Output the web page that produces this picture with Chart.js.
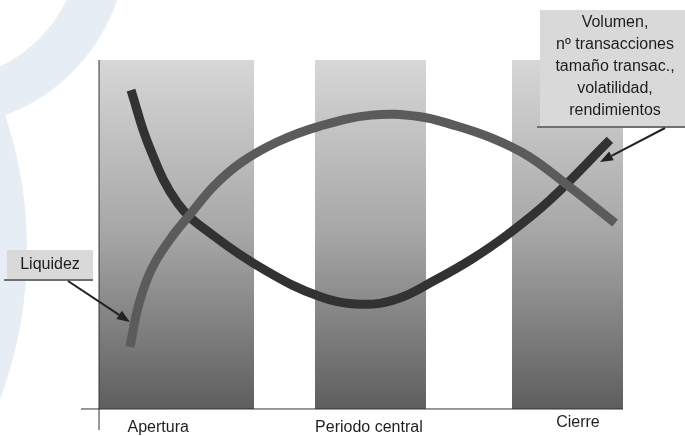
<!DOCTYPE html>
<html>
<head>
<meta charset="utf-8">
<script src="https://cdn.jsdelivr.net/npm/chart.js@4/dist/chart.umd.min.js"></script>
<style>
  html, body { margin: 0; padding: 0; background: #ffffff; }
  #wrap { width: 685px; height: 436px; position: relative; }
</style>
</head>
<body>
<div id="wrap"><canvas id="chart" width="685" height="436"></canvas></div>
<script>
// Trading sessions across the day (x runs 0..100 over the day, y is a relative level 0..100)
const sessions = ['Apertura', 'Periodo central', 'Cierre'];
const sessionStart = [0, 41.2, 78.8];
const sessionEnd = [29.6, 62.4, 100];
const sessionTop = [100, 100, 100];

// Volume, number of trades, trade size, volatility and returns: U-shaped through the day
const volumeX = [6.1, 9.5, 15.0, 22.0, 32.0, 42.0, 50.0, 57.0, 64.0, 71.0, 78.0, 86.0, 97.5];
const volumeY = [91.4, 75.5, 59.0, 49.5, 39.5, 32.3, 30.0, 31.6, 36.8, 42.8, 50.0, 59.8, 77.1];

// Liquidity: inverted U through the day
const liquidityX = [5.9, 7.6, 10.0, 13.5, 17.5, 22.0, 27.0, 34.0, 42.0, 52.0, 61.0, 68.0, 75.0, 82.0, 89.0, 98.5];
const liquidityY = [17.8, 30.0, 40.0, 48.5, 56.0, 64.0, 70.5, 76.5, 81.0, 84.2, 83.8, 81.2, 77.6, 72.4, 64.6, 53.3];

// Session label anchors (data units)
const sessionLabelX = [11.3, 51.5, 91.4];
const sessionLabelY = [-5.4, -5.4, -4.0];

// Callout texts and the curve points their arrows point to
const liquidityLabel = ['Liquidez'];
const volumeLabel = ['Volumen,', 'nº transacciones', 'tamaño transac.,', 'volatilidad,', 'rendimientos'];
const liquidityArrowTip = { x: 5.9, y: 24.9 };
const volumeArrowTip = { x: 95.6, y: 70.8 };

const FONT = '16px "Liberation Sans", Arial, sans-serif';

function zip(xs, ys) { return xs.map((x, i) => ({ x: x, y: ys[i] })); }

function barGradient(ctx) {
  const chart = ctx.chart;
  if (!chart.chartArea) return '#aaaaaa';
  const y = chart.scales.y;
  const g = chart.ctx.createLinearGradient(0, y.getPixelForValue(100), 0, y.getPixelForValue(0));
  g.addColorStop(0, '#d7d7d7');
  g.addColorStop(0.5, '#a6a6a6');
  g.addColorStop(1, '#5e5e5e');
  return g;
}

const curveDatasets = [
  {
    label: 'Liquidez',
    data: zip(liquidityX, liquidityY),
    borderColor: '#5b5b5b',
    borderWidth: 9,
    pointRadius: 0,
    tension: 0.4,
    borderCapStyle: 'butt',
    fill: false
  },
  {
    label: 'Volumen',
    data: zip(volumeX, volumeY),
    borderColor: '#323232',
    borderWidth: 9,
    pointRadius: 0,
    tension: 0.4,
    borderCapStyle: 'butt',
    fill: false
  }
];

const axisDatasets = [
  { label: 'eje x', data: [{ x: -3.44, y: 0 }, { x: 100, y: 0 }], borderColor: '#333333', borderWidth: 1, pointRadius: 0, fill: false },
  { label: 'eje y', data: [{ x: 0, y: -6.02 }, { x: 0, y: 100 }], borderColor: '#333333', borderWidth: 1, pointRadius: 0, fill: false }
];

const sessionDatasets = sessions.map((name, i) => ({
  label: name,
  data: [{ x: sessionStart[i], y: sessionTop[i] }, { x: sessionEnd[i], y: sessionTop[i] }],
  borderWidth: 0,
  borderColor: 'rgba(0,0,0,0)',
  pointRadius: 0,
  backgroundColor: barGradient,
  fill: 'origin'
}));

// Faint background emblem
const emblem = {
  id: 'emblem',
  beforeDraw(chart) {
    const c = chart.ctx;
    c.save();
    c.strokeStyle = '#e6edf5';
    c.lineWidth = 47;
    c.beginPath();
    c.arc(-60, -60, 163.5, 0, Math.PI / 2);
    c.stroke();
    c.lineWidth = 60;
    c.beginPath();
    c.arc(-400, 250, 397, -Math.PI / 2, Math.PI / 2);
    c.stroke();
    c.restore();
  }
};

function drawArrow(c, x0, y0, x1, y1) {
  const ang = Math.atan2(y1 - y0, x1 - x0);
  const len = 13, half = 5;
  const bx = x1 - len * Math.cos(ang), by = y1 - len * Math.sin(ang);
  c.strokeStyle = '#222222';
  c.fillStyle = '#222222';
  c.lineWidth = 2;
  c.beginPath();
  c.moveTo(x0, y0);
  c.lineTo(bx, by);
  c.stroke();
  c.beginPath();
  c.moveTo(x1, y1);
  c.lineTo(bx + half * Math.sin(ang), by - half * Math.cos(ang));
  c.lineTo(bx - half * Math.sin(ang), by + half * Math.cos(ang));
  c.closePath();
  c.fill();
}

function drawCallout(c, box, lines, lineGap) {
  c.fillStyle = '#d9d9d9';
  c.fillRect(box.x, box.y, box.w, box.h);
  c.strokeStyle = '#707070';
  c.lineWidth = 2;
  c.beginPath();
  c.moveTo(box.x - 3, box.y + box.h);
  c.lineTo(box.x + box.w, box.y + box.h);
  c.stroke();
  c.fillStyle = '#1e1e1e';
  c.font = FONT;
  c.textAlign = 'center';
  c.textBaseline = 'middle';
  lines.forEach((t, i) => c.fillText(t, box.cx, box.ty + i * lineGap));
}

const annotations = {
  id: 'annotations',
  afterDatasetsDraw(chart) {
    const c = chart.ctx;
    const xs = chart.scales.x, ys = chart.scales.y;
    c.save();
    // session names under the axis
    c.font = FONT;
    c.fillStyle = '#1e1e1e';
    c.textAlign = 'center';
    c.textBaseline = 'middle';
    sessions.forEach((s, i) => {
      c.fillText(s, xs.getPixelForValue(sessionLabelX[i]), ys.getPixelForValue(sessionLabelY[i]));
    });

    // Liquidez callout
    const lb = { x: 7, y: 250, w: 86, h: 30, cx: 50, ty: 265 };
    drawCallout(c, lb, liquidityLabel, 0);
    drawArrow(c, 68, 281, xs.getPixelForValue(liquidityArrowTip.x), ys.getPixelForValue(liquidityArrowTip.y));

    // Volumen callout
    const vb = { x: 540, y: 10, w: 150, h: 117, cx: 615, ty: 23 };
    drawCallout(c, vb, volumeLabel, 21.8);
    drawArrow(c, 665, 128, xs.getPixelForValue(volumeArrowTip.x), ys.getPixelForValue(volumeArrowTip.y));
    c.restore();
  }
};

new Chart(document.getElementById('chart'), {
  type: 'line',
  data: { datasets: [...curveDatasets, ...axisDatasets, ...sessionDatasets] },
  options: {
    responsive: false,
    animation: false,
    layout: { padding: { left: 81, right: 62, top: 60, bottom: 6 } },
    scales: {
      x: { type: 'linear', min: -3.44, max: 100, display: false },
      y: { type: 'linear', min: -6.02, max: 100, display: false }
    },
    plugins: { legend: { display: false }, tooltip: { enabled: false } }
  },
  plugins: [emblem, annotations]
});
</script>
</body>
</html>
